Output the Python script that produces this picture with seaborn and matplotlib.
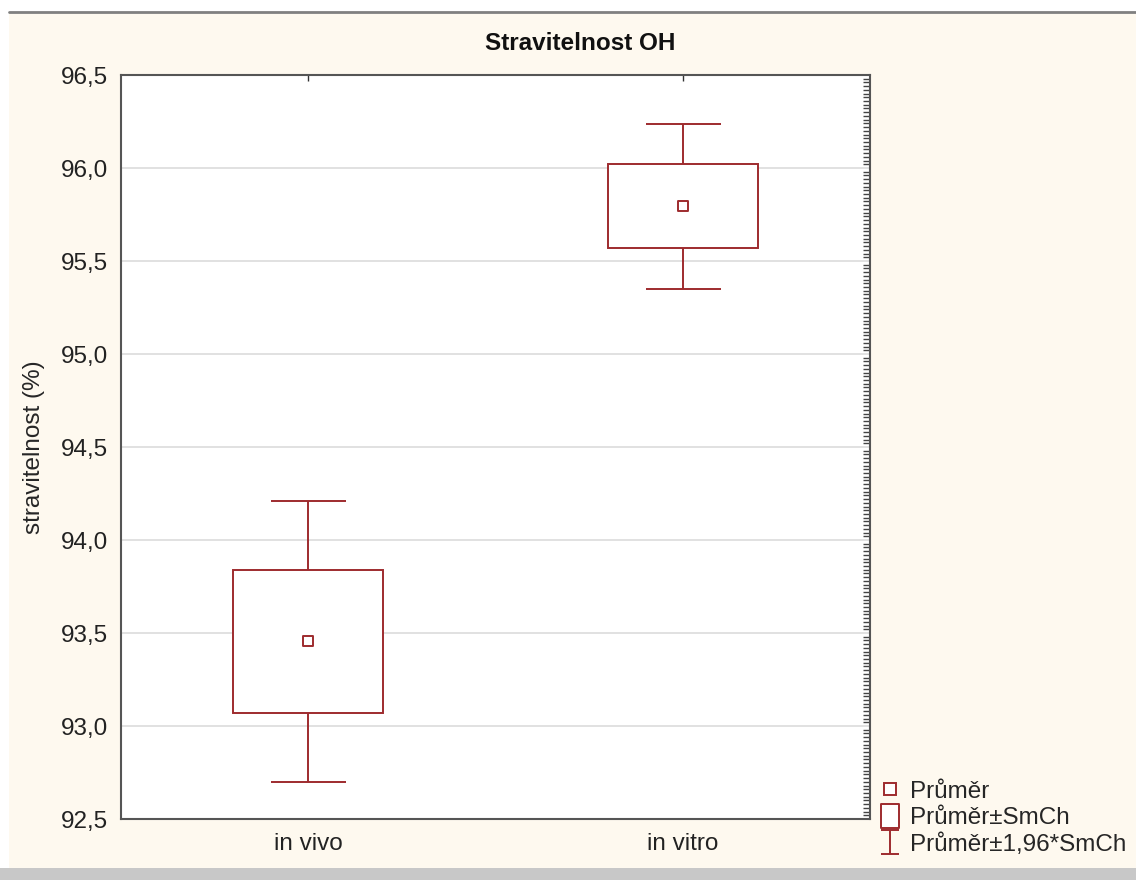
import matplotlib
matplotlib.use('Agg')
import matplotlib.pyplot as plt
import seaborn as sns
import pandas as pd
from matplotlib.lines import Line2D
from matplotlib.path import Path
from matplotlib.patches import Rectangle
from matplotlib.ticker import MultipleLocator, FuncFormatter

# values
groups = ['in vivo', 'in vitro']
means = [93.455, 95.795]
se = [0.385, 0.226]

df = pd.DataFrame({'skupina': groups, 'prumer': means, 'smch': se})
df['ci'] = 1.96 * df['smch']

red = '#9E2B2E'
cream = '#FEF9EF'

sns.set_style('white')
plt.rcParams['font.family'] = ['Liberation Sans', 'DejaVu Sans']

fig = plt.figure(figsize=(11.36, 8.8), dpi=100)
fig.patch.set_facecolor('white')
# screenshot-ish frame: cream panel, grey line on top, grey strip at bottom
fig.patches.append(Rectangle((9 / 1136, 12 / 880), 1, 1 - 24 / 880, transform=fig.transFigure,
                             facecolor=cream, edgecolor='none', zorder=-10))
fig.add_artist(Line2D([9 / 1136, 1], [1 - 12 / 880] * 2, color='#808080', lw=2))
fig.patches.append(Rectangle((0, 0), 1, 12 / 880, transform=fig.transFigure,
                             facecolor='#C8C8C8', edgecolor='none', zorder=-10))

ax = fig.add_axes([121 / 1136, 1 - 819 / 880, 749 / 1136, 744 / 880])
ax.set_facecolor('white')

x = range(len(groups))
# whiskers (mean +- 1.96*SE)
ax.errorbar(x, df['prumer'], yerr=df['ci'], fmt='none', ecolor=red,
            elinewidth=1.4, capsize=27, capthick=1.4, zorder=2)
# boxes (mean +- SE)
ax.bar(x, 2 * df['smch'], bottom=df['prumer'] - df['smch'], width=0.4,
       color='white', edgecolor=red, linewidth=1.4, zorder=3)
# mean points
sns.scatterplot(data=df, x='skupina', y='prumer', marker='s', s=60,
                facecolor='white', edgecolor=red, linewidth=1.4, zorder=4, ax=ax)

ax.set_xlim(-0.5, 1.5)
ax.set_ylim(92.5, 96.5)
ax.set_xticks(list(x))
ax.set_xticklabels(groups)
ax.yaxis.set_major_locator(MultipleLocator(0.5))
ax.yaxis.set_minor_locator(MultipleLocator(0.02))
ax.yaxis.set_major_formatter(FuncFormatter(lambda v, p: f'{v:.1f}'.replace('.', ',')))
ax.grid(axis='y', color='#DCDCDC', linewidth=1.2, zorder=0)
ax.set_axisbelow(True)

ax.tick_params(axis='both', which='major', direction='in', length=4, width=1,
               labelsize=17.5, colors='#333333', labelcolor='#222222')
ax.tick_params(axis='y', which='major', pad=9)
ax.tick_params(axis='x', which='major', pad=10, top=True)
ax.tick_params(axis='y', which='minor', left=False, right=True, direction='in',
               length=5, width=1, color='#444444')
for s in ax.spines.values():
    s.set_color('#555555')
    s.set_linewidth(1.5)

ax.set_xlabel('')
ax.set_ylabel('stravitelnost (%)', fontsize=17.5, labelpad=12)
fig.text(580 / 1136, 1 - 43 / 880, 'Stravitelnost OH', fontsize=17.5, fontweight='bold',
         ha='center', va='center', color='#111111')

# legend handles
box_path = Path([(-0.4, -0.5), (0.4, -0.5), (0.4, 0.5), (-0.4, 0.5), (-0.4, -0.5)],
                [Path.MOVETO, Path.LINETO, Path.LINETO, Path.LINETO, Path.CLOSEPOLY])
err_path = Path([(-0.38, -0.5), (0.38, -0.5), (0, -0.5), (0, 0.5), (-0.38, 0.5), (0.38, 0.5)],
                [Path.MOVETO, Path.LINETO, Path.MOVETO, Path.LINETO, Path.MOVETO, Path.LINETO])
handles = [
    Line2D([], [], marker='s', linestyle='none', markersize=8, markerfacecolor='white',
           markeredgecolor=red, markeredgewidth=1.4),
    Line2D([], [], marker=box_path, linestyle='none', markersize=17, markerfacecolor='white',
           markeredgecolor=red, markeredgewidth=1.4),
    Line2D([], [], marker=err_path, linestyle='none', markersize=17, markerfacecolor='none',
           markeredgecolor=red, markeredgewidth=1.4),
]
labels = ['Průměr', 'Průměr±SmCh', 'Průměr±1,96*SmCh']
fig.legend(handles, labels, loc='lower left', bbox_to_anchor=(878 / 1136, 24 / 880),
           frameon=False, fontsize=17.5, handlelength=1.0, handletextpad=0.3,
           labelspacing=0.18, borderpad=0, borderaxespad=0)

fig.savefig('out.png', dpi=100, facecolor=fig.get_facecolor())
